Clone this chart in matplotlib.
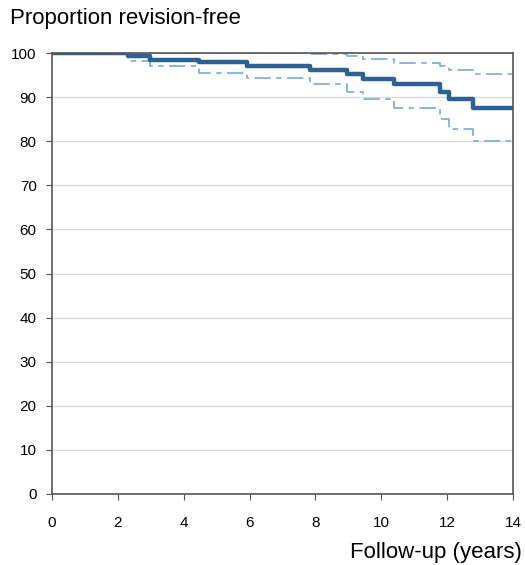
import numpy as np
import matplotlib
matplotlib.use("Agg")
import matplotlib.pyplot as plt

plt.rcParams['font.family'] = ['Liberation Sans', 'DejaVu Sans']

# step change points (years) and survival (%)
t = [0, 2.3, 2.98, 4.47, 5.93, 7.83, 8.95, 9.45, 10.39, 11.8, 12.06, 12.8, 14]
surv = [100, 99.4, 98.5, 97.9, 97.1, 96.1, 95.2, 94.1, 92.9, 91.2, 89.5, 87.5, 87.5]
upper = [100, 100, 100, 100, 100, 99.7, 99.3, 98.6, 97.8, 97.1, 96.1, 95.2, 95.2]
lower = [100, 98.2, 97.0, 95.6, 94.4, 92.9, 91.2, 89.5, 87.6, 85.0, 82.7, 80.0, 80.0]

fig = plt.figure(figsize=(5.25, 5.65), dpi=100)
ax = fig.add_axes([0.099, 0.1257, 0.878, 0.7803])

ax.yaxis.grid(True, color='#d9d9d9', linewidth=0.9)
ax.set_axisbelow(True)

ax.step(t, upper, where='post', color='#7eb0e0', linewidth=1.3, dashes=(9, 3, 3, 3))
ax.step(t, lower, where='post', color='#7eb0e0', linewidth=1.3, dashes=(9, 3, 3, 3))
ax.step(t, surv, where='post', color='#2c6291', linewidth=3.2)

ax.set_xlim(0, 14)
ax.set_ylim(0, 100)
ax.set_xticks(np.arange(0, 15, 2))
ax.set_yticks(np.arange(0, 101, 10))
for s in ax.spines.values():
    s.set_color('#555555')
    s.set_linewidth(1.2)
ax.tick_params(direction='out', length=4, color='#555555', labelsize=11)
ax.tick_params(axis='y', pad=7)
ax.tick_params(axis='x', pad=12)

fig.text(0.019, 0.968, 'Proportion revision-free', fontsize=16, va='center', ha='left')
fig.text(0.995, 0.022, 'Follow-up (years)', fontsize=16, va='center', ha='right')

fig.savefig('out.png', dpi=100)
